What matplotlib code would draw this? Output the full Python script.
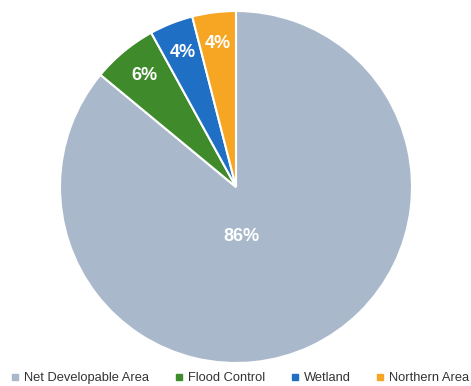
import matplotlib.pyplot as plt
from matplotlib.lines import Line2D

labels = ['Net Developable Area', 'Flood Control', 'Wetland', 'Northern Area']
values = [86, 6, 4, 4]
colors = ['#a9b9cb', '#3f8a2b', '#1f6fc4', '#f6a623']

plt.rcParams['font.family'] = ['Liberation Sans', 'DejaVu Sans']

fig = plt.figure(figsize=(4.71, 3.86), dpi=100)
# pie centre ~ (236,187) px, radius ~176 px
ax = fig.add_axes([60/471, 23/386, 352/471, 352/386])

wedges, texts = ax.pie(values, colors=colors, startangle=90, counterclock=False,
                       labels=[f'{v}%' for v in values], labeldistance=0.82,
                       wedgeprops=dict(edgecolor='white', linewidth=1.5))
for t in texts:
    t.set_color('white')
    t.set_fontweight('bold')
    t.set_fontsize(13)
    t.set_ha('center')
    t.set_va('center')
# big slice label sits nearer the centre
texts[0].set_position((0.03, -0.28))
ax.set_aspect('equal')
ax.set_xlim(-1, 1)
ax.set_ylim(-1, 1)

handles = [Line2D([0], [0], marker='s', color='none', markerfacecolor=c,
                  markeredgecolor=c, markersize=4) for c in colors]
fig.legend(handles, labels, loc='lower center', ncol=4, frameon=False,
           bbox_to_anchor=(0.51, -0.025), fontsize=9.3, handlelength=0.6,
           handletextpad=0.4, columnspacing=2.0, labelcolor='#333333')

fig.savefig('out.png', dpi=100)
